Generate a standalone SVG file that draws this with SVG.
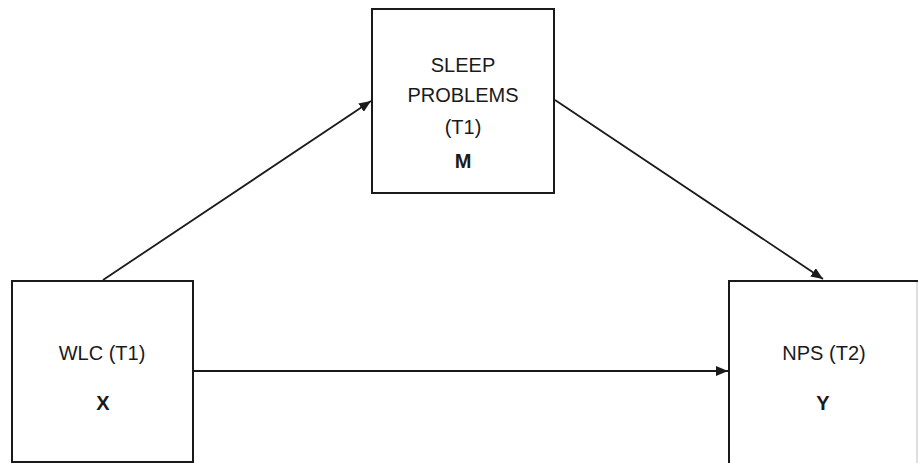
<svg xmlns="http://www.w3.org/2000/svg" width="918" height="463" viewBox="0 0 918 463">
  <style>
    .box { fill: #ffffff; stroke: #1a1a1a; stroke-width: 2; }
    .lbl { font-family: "Liberation Sans", Arial, sans-serif; font-size: 20px; fill: #1a1a1a; text-anchor: middle; }
    .b { font-weight: bold; }
    .conn { stroke: #1a1a1a; stroke-width: 1.8; fill: none; marker-end: url(#arr); }
  </style>
  <defs>
    <marker id="arr" viewBox="0 0 12 10" refX="12" refY="5" markerWidth="12" markerHeight="10" markerUnits="userSpaceOnUse" orient="auto">
      <path d="M0,0 L12,5 L0,10 z" fill="#1a1a1a"/>
    </marker>
  </defs>
  <rect width="918" height="463" fill="#ffffff"/>
  <g id="node-m">
    <rect class="box" x="372" y="9" width="182" height="184"/>
    <text class="lbl" x="463" y="72">SLEEP</text>
    <text class="lbl" x="463" y="102">PROBLEMS</text>
    <text class="lbl" x="463" y="134">(T1)</text>
    <text class="lbl b" x="463" y="168">M</text>
  </g>
  <g id="node-x">
    <rect class="box" x="12" y="281" width="181" height="181"/>
    <text class="lbl" x="102" y="360">WLC (T1)</text>
    <text class="lbl b" x="103" y="410">X</text>
  </g>
  <g id="node-y">
    <path d="M729,470 L729,281 L930,281" fill="#ffffff" stroke="#1a1a1a" stroke-width="2"/>
    <line x1="917" y1="282" x2="917" y2="463" stroke="#c8c8c8" stroke-width="1.2"/>
    <text class="lbl" x="824" y="360">NPS (T2)</text>
    <text class="lbl b" x="823" y="410">Y</text>
  </g>
  <g id="connectors">
    <line class="conn" x1="103" y1="280" x2="371" y2="101"/>
    <line class="conn" x1="555" y1="100" x2="823" y2="279"/>
    <line class="conn" x1="193" y1="371" x2="728" y2="371"/>
  </g>
</svg>
